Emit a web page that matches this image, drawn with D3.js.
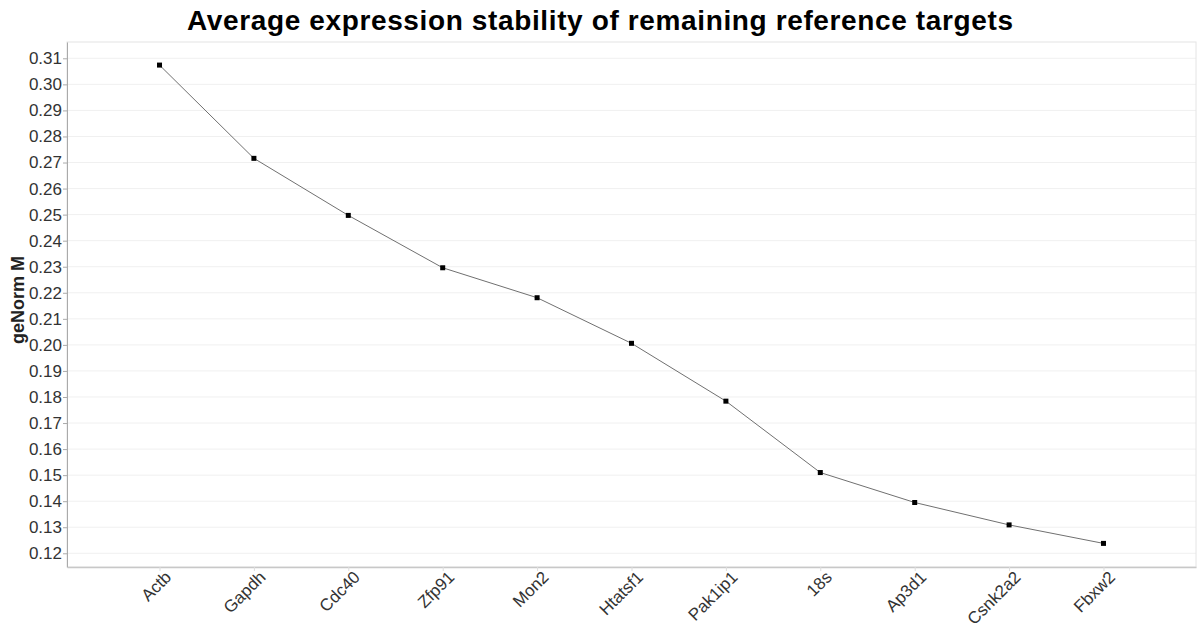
<!DOCTYPE html>
<html><head><meta charset="utf-8">
<script src="https://cdn.jsdelivr.net/npm/d3@7/dist/d3.min.js"></script>
<style>body{margin:0;background:#fff;} text{font-family:"Liberation Sans",Arial,sans-serif;}</style>
</head><body><svg id="c" width="1197" height="627"></svg>
<script>
const categories = ["Actb","Gapdh","Cdc40","Zfp91","Mon2","Htatsf1","Pak1ip1","18s","Ap3d1","Csnk2a2","Fbxw2"];
const values = [0.3074,0.2716,0.2497,0.2296,0.2181,0.2006,0.1784,0.1510,0.1395,0.1309,0.1238];
const yTicks = [0.12,0.13,0.14,0.15,0.16,0.17,0.18,0.19,0.20,0.21,0.22,0.23,0.24,0.25,0.26,0.27,0.28,0.29,0.30,0.31];

const svg = d3.select("#c");
const L = 67, R = 1196, T = 42, B = 567;
const x = d3.scalePoint().domain(categories).range([L, R]).padding(0.98);
const y = d3.scaleLinear().domain([0.11474, 0.31626]).range([B, T]);

// grid
svg.append("g").selectAll("line").data(yTicks).join("line")
  .attr("x1", L).attr("x2", R).attr("y1", d => y(d)).attr("y2", d => y(d))
  .attr("stroke", "#f0f0f0").attr("stroke-width", 1);

// frame
svg.append("rect").attr("x", L).attr("y", T).attr("width", R - L).attr("height", B - T)
  .attr("fill", "none").attr("stroke", "#e4e4e4");

// y axis
const ya = svg.append("g").attr("transform", `translate(${L},0)`)
  .call(d3.axisLeft(y).tickValues(yTicks).tickFormat(d3.format(".2f")).tickSize(4).tickSizeOuter(0).tickPadding(1));
ya.select(".domain").attr("stroke", "#aaa");
ya.selectAll(".tick line").attr("stroke", "#aaa");
ya.selectAll("text").attr("fill", "#333").attr("font-size", 17).attr("font-family", "Liberation Sans, Arial, sans-serif");

// x axis
const xa = svg.append("g").attr("transform", `translate(0,${B})`)
  .call(d3.axisBottom(x).tickSize(4).tickSizeOuter(0));
xa.select(".domain").attr("stroke", "#c8c8c8").attr("stroke-width", 1.5);
xa.selectAll(".tick line").attr("stroke", "#ddd");
xa.selectAll("text").attr("fill", "#333").attr("font-size", 17).attr("font-family", "Liberation Sans, Arial, sans-serif")
  .attr("text-anchor", "end").attr("x", 0).attr("y", 0).attr("dy", "0.35em")
  .attr("transform", "translate(8,7) rotate(-45)");

// line
svg.append("path").datum(values)
  .attr("d", d3.line().x((d, i) => x(categories[i])).y(d => y(d)))
  .attr("fill", "none").attr("stroke", "#707070").attr("stroke-width", 1);

svg.append("g").selectAll("rect").data(values).join("rect")
  .attr("x", (d, i) => x(categories[i]) - 2.5).attr("y", d => y(d) - 2.5)
  .attr("width", 5).attr("height", 5).attr("fill", "#000");

// title
svg.append("text").attr("x", 600).attr("y", 30).attr("text-anchor", "middle")
  .attr("font-size", 28).attr("font-weight", "bold").attr("fill", "#000")
  .attr("textLength", 826).attr("lengthAdjust", "spacing")
  .text("Average expression stability of remaining reference targets");

// y label
svg.append("text").attr("transform", "translate(24,300) rotate(-90)").attr("text-anchor", "middle")
  .attr("font-size", 18).attr("font-weight", "bold").attr("fill", "#222").text("geNorm M");
</script></body></html>
